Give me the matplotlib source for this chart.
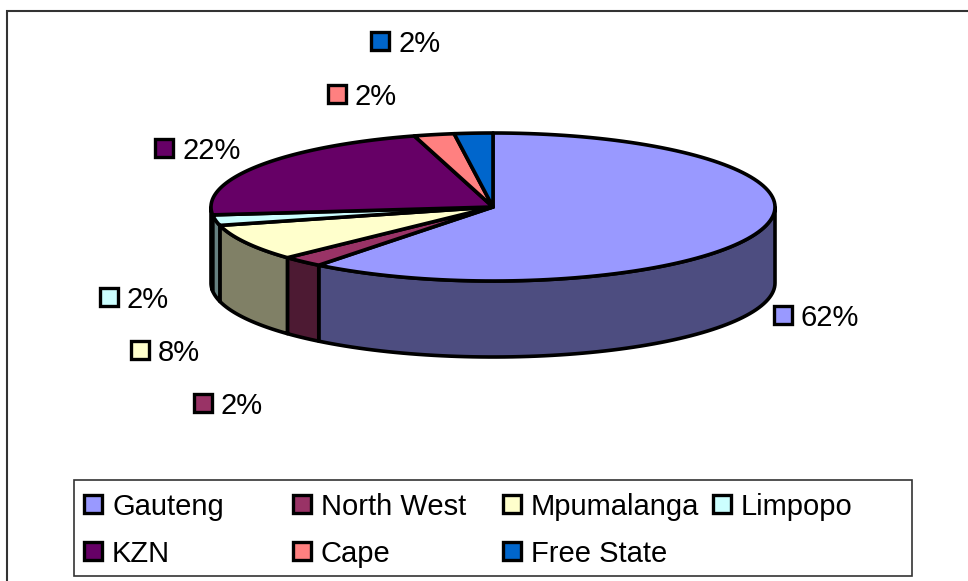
import numpy as np
import matplotlib
matplotlib.use("Agg")
import matplotlib.pyplot as plt
from matplotlib.patches import Polygon, Rectangle

plt.rcParams['font.family'] = ['Liberation Sans', 'DejaVu Sans']

# Data (slice sizes from the angles, labels as printed)
provinces = ['Gauteng', 'North West', 'Mpumalanga', 'Limpopo', 'KZN', 'Cape', 'Free State']
shares = [60.6, 2.4, 8.0, 2.3, 22.2, 2.3, 2.2]
share_labels = ['62%', '2%', '8%', '2%', '22%', '2%', '2%']
colors = ['#9999FF', '#993366', '#FFFFCC', '#CCFFFF', '#660066', '#FF8080', '#0066CC']
side_colors = ['#4D4D80', '#4D1A33', '#808066', '#668080', '#330033', '#804040', '#003366']

# Layout in pixels
cx, cy = 493, 207
rx, ry = 282, 74
depth = 76
label_xy = [(783, 315), (203, 403), (140, 350), (109, 297), (164, 148), (337, 94), (380, 41)]
legend_cols = [93, 302, 512, 722]
legend_rows = [504, 551]
legend_slots = [(0, 0), (1, 0), (2, 0), (3, 0), (0, 1), (1, 1), (2, 1)]

fig = plt.figure(figsize=(9.68, 5.81), dpi=100)
ax = fig.add_axes([0, 0, 1, 1])
ax.set_xlim(0, 968)
ax.set_ylim(581, 0)
ax.axis('off')


def rim(t):
    # angle in degrees, clockwise from the top of the pie
    t = np.radians(t)
    return cx + rx * np.sin(t), cy - ry * np.cos(t)


# Outer frame, open on the right and bottom like the reference
ax.plot([7, 7, 968], [581, 11, 11], color='#333333', lw=1.5, solid_joinstyle='miter')

edges = np.concatenate([[0], np.cumsum(shares)]) / np.sum(shares) * 360

# Side walls, only the part facing the viewer
for i in range(len(shares)):
    a, b = max(edges[i], 90), min(edges[i + 1], 270)
    if b <= a:
        continue
    t = np.linspace(a, b, 80)
    x, y = rim(t)
    pts = np.column_stack([np.r_[x, x[::-1]], np.r_[y, y[::-1] + depth]])
    ax.add_patch(Polygon(pts, closed=True, facecolor=side_colors[i], edgecolor='black',
                         lw=2.6, joinstyle='round', zorder=2))

# Top face
for i in range(len(shares)):
    t = np.linspace(edges[i], edges[i + 1], 120)
    x, y = rim(t)
    pts = np.column_stack([np.r_[cx, x], np.r_[cy, y]])
    ax.add_patch(Polygon(pts, closed=True, facecolor=colors[i], edgecolor='black',
                         lw=2.6, joinstyle='round', zorder=3))

# Data labels with their colour keys
for i in range(len(shares)):
    lx, ly = label_xy[i]
    ax.add_patch(Rectangle((lx - 9, ly - 9), 18, 18, facecolor=colors[i], edgecolor='black',
                           lw=2.4, zorder=4))
    ax.text(lx + 18, ly, share_labels[i], fontsize=21, va='center_baseline', ha='left',
            color='black', zorder=4)

# Legend box
ax.add_patch(Rectangle((74, 480), 838, 96, facecolor='white', edgecolor='#333333', lw=1.2, zorder=4))
for i, name in enumerate(provinces):
    col, row = legend_slots[i]
    lx, ly = legend_cols[col], legend_rows[row]
    ax.add_patch(Rectangle((lx - 9, ly - 9), 18, 18, facecolor=colors[i], edgecolor='black',
                           lw=2.4, zorder=5))
    ax.text(lx + 19, ly, name, fontsize=21, va='center_baseline', ha='left', color='black', zorder=5)

fig.savefig('out.png', dpi=100)
